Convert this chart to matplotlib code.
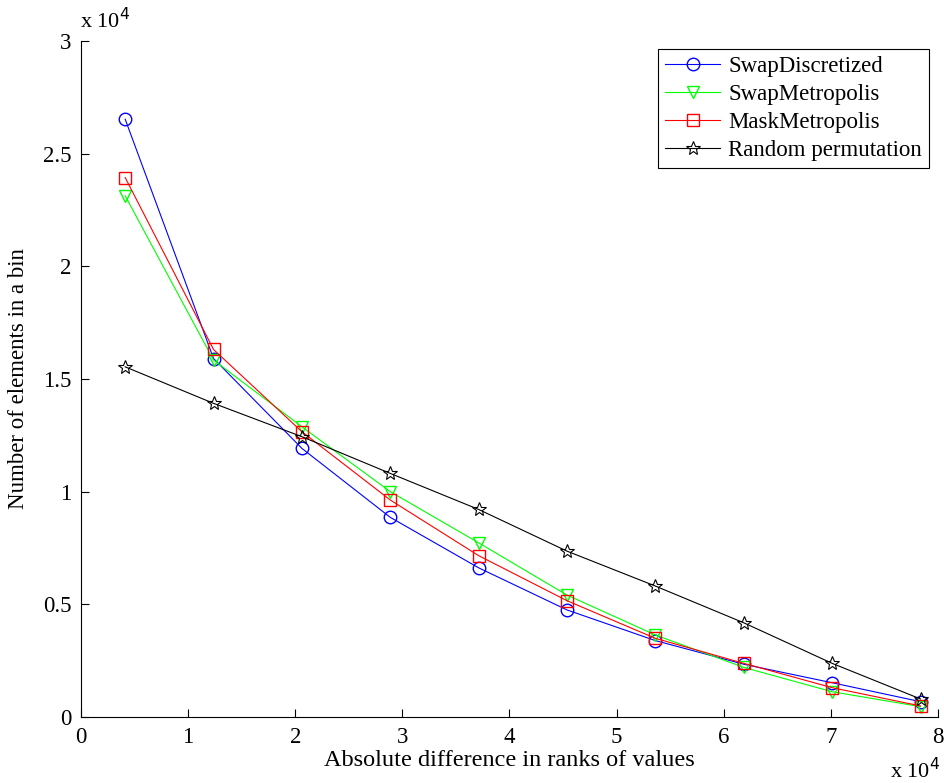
import numpy as np
import matplotlib
matplotlib.use('Agg')
import matplotlib.pyplot as plt

plt.rcParams['font.family'] = ['Liberation Serif', 'DejaVu Serif']

# bin centres (x 10^4) and counts (x 10^4)
x = [0.4125, 1.2375, 2.0625, 2.8875, 3.7125, 4.5375, 5.3625, 6.1875, 7.0125, 7.8375]
swap_disc = [2.653, 1.591, 1.192, 0.886, 0.662, 0.475, 0.339, 0.234, 0.152, 0.068]
swap_metro = [2.313, 1.584, 1.288, 1.000, 0.773, 0.541, 0.364, 0.220, 0.112, 0.046]
mask_metro = [2.394, 1.631, 1.266, 0.963, 0.716, 0.516, 0.349, 0.238, 0.130, 0.049]
rand_perm = [1.554, 1.392, 1.244, 1.081, 0.921, 0.736, 0.581, 0.418, 0.238, 0.080]

fig = plt.figure(figsize=(9.44, 7.83), dpi=100)
ax = fig.add_axes([0.0858, 0.0843, 0.9078, 0.8633])

lw = 0.8
ms = 9
ax.plot(x, swap_disc, color='b', marker='o', mfc='none', ms=ms, lw=lw, label='SwapDiscretized')
ax.plot(x, swap_metro, color=(0, 1, 0), marker='v', mfc='none', ms=ms, lw=lw, label='SwapMetropolis')
ax.plot(x, mask_metro, color='r', marker='s', mfc='none', ms=ms - 1, lw=lw, label='MaskMetropolis')
ax.plot(x, rand_perm, color='k', marker='*', mfc='none', ms=ms + 1, lw=lw, mew=0.8, label='Random permutation')

ax.set_xlim(0, 8)
ax.set_ylim(0, 3)
ax.set_xticks(range(0, 9))
ax.set_yticks([0, 0.5, 1, 1.5, 2, 2.5, 3])
ax.set_yticklabels(['0', '0.5', '1', '1.5', '2', '2.5', '3'])
ax.tick_params(direction='in', labelsize=16.5, length=6, width=0.8)
ax.tick_params(axis='x', pad=7)
ax.tick_params(axis='y', pad=7)
ax.spines['top'].set_visible(False)
ax.spines['right'].set_visible(False)

ax.set_xlabel('Absolute difference in ranks of values', fontsize=17.5, labelpad=2)
ax.set_ylabel('Number of elements in a bin', fontsize=16.5, labelpad=10)

fig.text(0.085, 0.958, r'x 10$^4$', fontsize=16, ha='left', va='bottom')
fig.text(0.943, 0.0, r'x 10$^4$', fontsize=16, ha='left', va='bottom')

leg = ax.legend(loc='upper right', bbox_to_anchor=(0.9895, 0.988), fontsize=16.5,
                fancybox=False, framealpha=1, edgecolor='k', handlelength=2.4,
                borderpad=0.3, labelspacing=0.3, handletextpad=0.35,
                borderaxespad=0)
leg.get_frame().set_linewidth(0.8)

fig.savefig('out.png', dpi=100)
